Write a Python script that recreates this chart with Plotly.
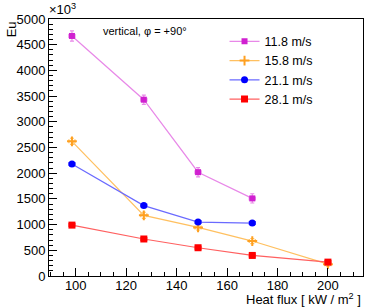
import plotly.graph_objects as go

heat_flux_a = [98.5, 127, 148.5, 170]
heat_flux_b = [98.5, 127, 148.5, 170, 200]
eu_11_8 = [4670, 3430, 2020, 1510]
eu_15_8 = [2620, 1180, 945, 680, 230]
eu_21_1 = [2180, 1370, 1050, 1030]
eu_28_1 = [990, 720, 550, 400, 270]
err_11_8 = [100, 90, 90, 90]
err_15_8 = [60, 60, 50, 50, 40]
err_21_1 = [20, 20, 20, 20]
err_28_1 = [20, 20, 20, 20, 20]
names = ["11.8 m/s", "15.8 m/s", "21.1 m/s", "28.1 m/s"]

series = [
    (heat_flux_a, eu_11_8, err_11_8, names[0], "#d020d0", "#e888e8", "square", 6),
    (heat_flux_b, eu_15_8, err_15_8, names[1], "#ffa020", "#ffc060", "cross-thin", 7),
    (heat_flux_a, eu_21_1, err_21_1, names[2], "#0000ff", "#6a6aff", "circle", 7),
    (heat_flux_b, eu_28_1, err_28_1, names[3], "#ff0000", "#ff6060", "square", 7),
]

fig = go.Figure()
for x, y, e, n, mc, lc, sym, sz in series:
    fig.add_trace(go.Scatter(
        x=x, y=y, name=n, mode="lines+markers",
        line=dict(color=lc, width=1.2),
        marker=dict(color=mc, symbol=sym, size=sz,
                    line=dict(color=mc, width=2 if sym == "cross-thin" else 0)),
        error_y=dict(type="data", array=e, color=lc, thickness=1.2, width=2),
        error_x=dict(type="constant", value=1.2, color=lc, thickness=1.2, width=2),
    ))

font = "Liberation Sans, Arial, sans-serif"
fig.update_layout(
    template="none",
    width=374, height=308,
    margin=dict(l=49, r=11, t=19, b=32, autoexpand=False),
    paper_bgcolor="white", plot_bgcolor="white",
    font=dict(family=font, size=13, color="black"),
    showlegend=True,
    legend=dict(x=0.559, y=0.97, xanchor="left", yanchor="top",
                bgcolor="rgba(0,0,0,0)", font=dict(size=12.5), tracegroupgap=0,
                itemwidth=30),
    xaxis=dict(range=[89.4, 213.9], tickvals=[100, 120, 140, 160, 180, 200],
               ticks="inside", ticklen=8, tickcolor="black", tickwidth=1,
               showline=True, linecolor="black", linewidth=1, mirror=True, showgrid=False,
               zeroline=False, tickfont=dict(size=13), automargin=False,
               ticklabelstandoff=-3,
               minor=dict(dtick=5, tick0=100, ticks="inside", ticklen=4,
                          tickcolor="black", showgrid=False)),
    yaxis=dict(range=[0, 5000], tickvals=[0, 500, 1000, 1500, 2000, 2500, 3000, 3500, 4000, 4500, 5000],
               ticks="inside", ticklen=8, tickcolor="black", tickwidth=1,
               showline=True, linecolor="black", linewidth=1, mirror=True, showgrid=False,
               zeroline=False, tickfont=dict(size=13), automargin=False,
               minor=dict(dtick=100, tick0=0, ticks="inside", ticklen=4,
                          tickcolor="black", showgrid=False)),
    annotations=[
        dict(text="Heat flux [ kW / m<sup>2</sup> ]", xref="paper", yref="paper",
             x=1.0, y=-0.127, xanchor="right", yanchor="bottom", showarrow=False,
             font=dict(size=13)),
        dict(text="Eu", xref="paper", yref="paper", x=-0.12, y=1.0,
             xanchor="center", yanchor="top", textangle=-90, showarrow=False,
             font=dict(size=13)),
        dict(text="×10<sup>3</sup>", xref="paper", yref="paper", x=-0.005, y=1.0,
             xanchor="left", yanchor="bottom", showarrow=False, font=dict(size=13)),
        dict(text="vertical, φ = +90°", xref="paper", yref="paper", x=0.165, y=0.985,
             xanchor="left", yanchor="top", showarrow=False, font=dict(size=11)),
    ],
)

fig.write_html("out.html", config={"displayModeBar": False},
               post_script="document.body.style.margin='0';document.body.style.overflow='hidden';")
